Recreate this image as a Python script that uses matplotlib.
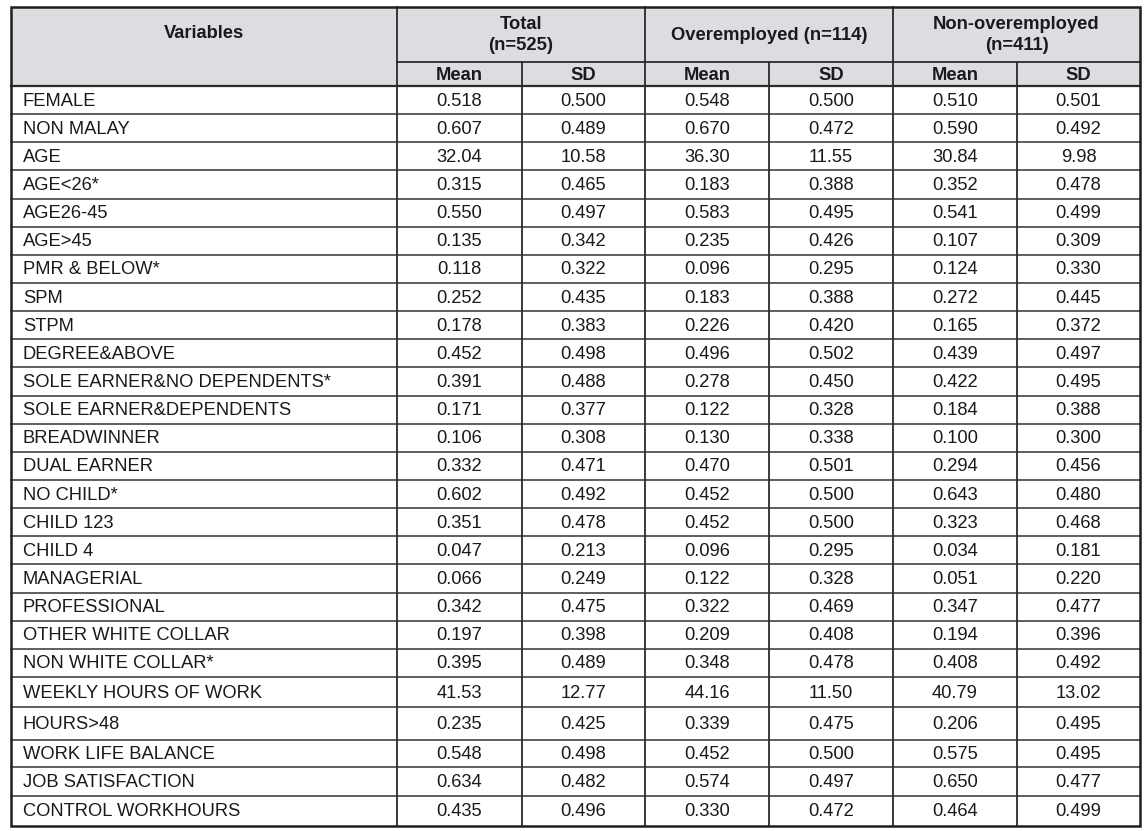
import matplotlib
matplotlib.use("Agg")
import matplotlib.pyplot as plt
from matplotlib.patches import Rectangle

variables = ["FEMALE", "NON MALAY", "AGE", "AGE<26*", "AGE26-45", "AGE>45",
             "PMR & BELOW*", "SPM", "STPM", "DEGREE&ABOVE",
             "SOLE EARNER&NO DEPENDENTS*", "SOLE EARNER&DEPENDENTS", "BREADWINNER",
             "DUAL EARNER", "NO CHILD*", "CHILD 123", "CHILD 4", "MANAGERIAL",
             "PROFESSIONAL", "OTHER WHITE COLLAR", "NON WHITE COLLAR*",
             "WEEKLY HOURS OF WORK", "HOURS>48", "WORK LIFE BALANCE",
             "JOB SATISFACTION", "CONTROL WORKHOURS"]
total_mean = ["0.518", "0.607", "32.04", "0.315", "0.550", "0.135", "0.118", "0.252", "0.178",
              "0.452", "0.391", "0.171", "0.106", "0.332", "0.602", "0.351", "0.047", "0.066",
              "0.342", "0.197", "0.395", "41.53", "0.235", "0.548", "0.634", "0.435"]
total_sd = ["0.500", "0.489", "10.58", "0.465", "0.497", "0.342", "0.322", "0.435", "0.383",
            "0.498", "0.488", "0.377", "0.308", "0.471", "0.492", "0.478", "0.213", "0.249",
            "0.475", "0.398", "0.489", "12.77", "0.425", "0.498", "0.482", "0.496"]
over_mean = ["0.548", "0.670", "36.30", "0.183", "0.583", "0.235", "0.096", "0.183", "0.226",
             "0.496", "0.278", "0.122", "0.130", "0.470", "0.452", "0.452", "0.096", "0.122",
             "0.322", "0.209", "0.348", "44.16", "0.339", "0.452", "0.574", "0.330"]
over_sd = ["0.500", "0.472", "11.55", "0.388", "0.495", "0.426", "0.295", "0.388", "0.420",
           "0.502", "0.450", "0.328", "0.338", "0.501", "0.500", "0.500", "0.295", "0.328",
           "0.469", "0.408", "0.478", "11.50", "0.475", "0.500", "0.497", "0.472"]
non_mean = ["0.510", "0.590", "30.84", "0.352", "0.541", "0.107", "0.124", "0.272", "0.165",
            "0.439", "0.422", "0.184", "0.100", "0.294", "0.643", "0.323", "0.034", "0.051",
            "0.347", "0.194", "0.408", "40.79", "0.206", "0.575", "0.650", "0.464"]
non_sd = ["0.501", "0.492", "9.98", "0.478", "0.499", "0.309", "0.330", "0.445", "0.372",
          "0.497", "0.495", "0.388", "0.300", "0.456", "0.480", "0.468", "0.181", "0.220",
          "0.477", "0.396", "0.492", "13.02", "0.495", "0.495", "0.477", "0.499"]
group_headers = ["Total\n(n=525)", "Overemployed (n=114)", "Non-overemployed\n(n=411)"]
sub_headers = ["Mean", "SD"]
first_header = "Variables"

W, H = 1145, 831
fig = plt.figure(figsize=(W / 100, H / 100), dpi=100)
ax = fig.add_axes([0, 0, 1, 1])
ax.set_xlim(0, W)
ax.set_ylim(H, 0)
ax.axis("off")

FONT = "Liberation Sans"
FS = 13.2
col_x = [11, 397, 522, 645, 769, 893, 1017, 1140]
top, h1, h2 = 7, 62, 86
# row boundaries
bounds = [h2 + i * (677 - h2) / 21 for i in range(22)] + [707, 740, 767, 796, 826]
bottom = bounds[-1]

line_c = "#2a2a2a"
ax.add_patch(Rectangle((col_x[0], top), col_x[-1] - col_x[0], h2 - top,
                       facecolor="#dcdde0", edgecolor="none", zorder=0))

# horizontal lines
for y in bounds[1:-1]:
    ax.plot([col_x[0], col_x[-1]], [y, y], color="#333333", lw=1.1, zorder=2)
ax.plot([col_x[0], col_x[-1]], [h2, h2], color=line_c, lw=1.6, zorder=2)
ax.plot([col_x[1], col_x[-1]], [h1, h1], color=line_c, lw=1.3, zorder=2)
# vertical lines
for i, x in enumerate(col_x[1:-1], start=1):
    if i in (2, 4, 6):
        ax.plot([x, x], [h1, bottom], color=line_c, lw=1.3, zorder=2)
    else:
        ax.plot([x, x], [top, bottom], color=line_c, lw=1.3, zorder=2)
# outer border
ax.add_patch(Rectangle((col_x[0], top), col_x[-1] - col_x[0], bottom - top,
                       facecolor="none", edgecolor="#1e1e1e", lw=1.8, zorder=3))

txt_c = "#1a1a1a"
ax.text((col_x[0] + col_x[1]) / 2, 34, first_header, ha="center", va="center",
        fontsize=FS, fontweight="bold", family=FONT, color=txt_c)
for g, label in enumerate(group_headers):
    x0, x1 = col_x[1 + 2 * g], col_x[3 + 2 * g]
    ax.text((x0 + x1) / 2, 35, label, ha="center", va="center", fontsize=FS,
            fontweight="bold", family=FONT, color=txt_c, linespacing=1.3)
    for s, sub in enumerate(sub_headers):
        xa, xb = col_x[1 + 2 * g + s], col_x[2 + 2 * g + s]
        ax.text((xa + xb) / 2, (h1 + h2) / 2 + 1, sub, ha="center", va="center",
                fontsize=FS, fontweight="bold", family=FONT, color=txt_c)

columns = [total_mean, total_sd, over_mean, over_sd, non_mean, non_sd]
for r, name in enumerate(variables):
    yc = (bounds[r] + bounds[r + 1]) / 2 + 1
    ax.text(23, yc, name, ha="left", va="center", fontsize=FS, family=FONT, color=txt_c)
    for c, col in enumerate(columns):
        ax.text((col_x[c + 1] + col_x[c + 2]) / 2, yc, col[r], ha="center", va="center",
                fontsize=FS, family=FONT, color=txt_c)

fig.savefig("out.png", dpi=100, facecolor="white")
